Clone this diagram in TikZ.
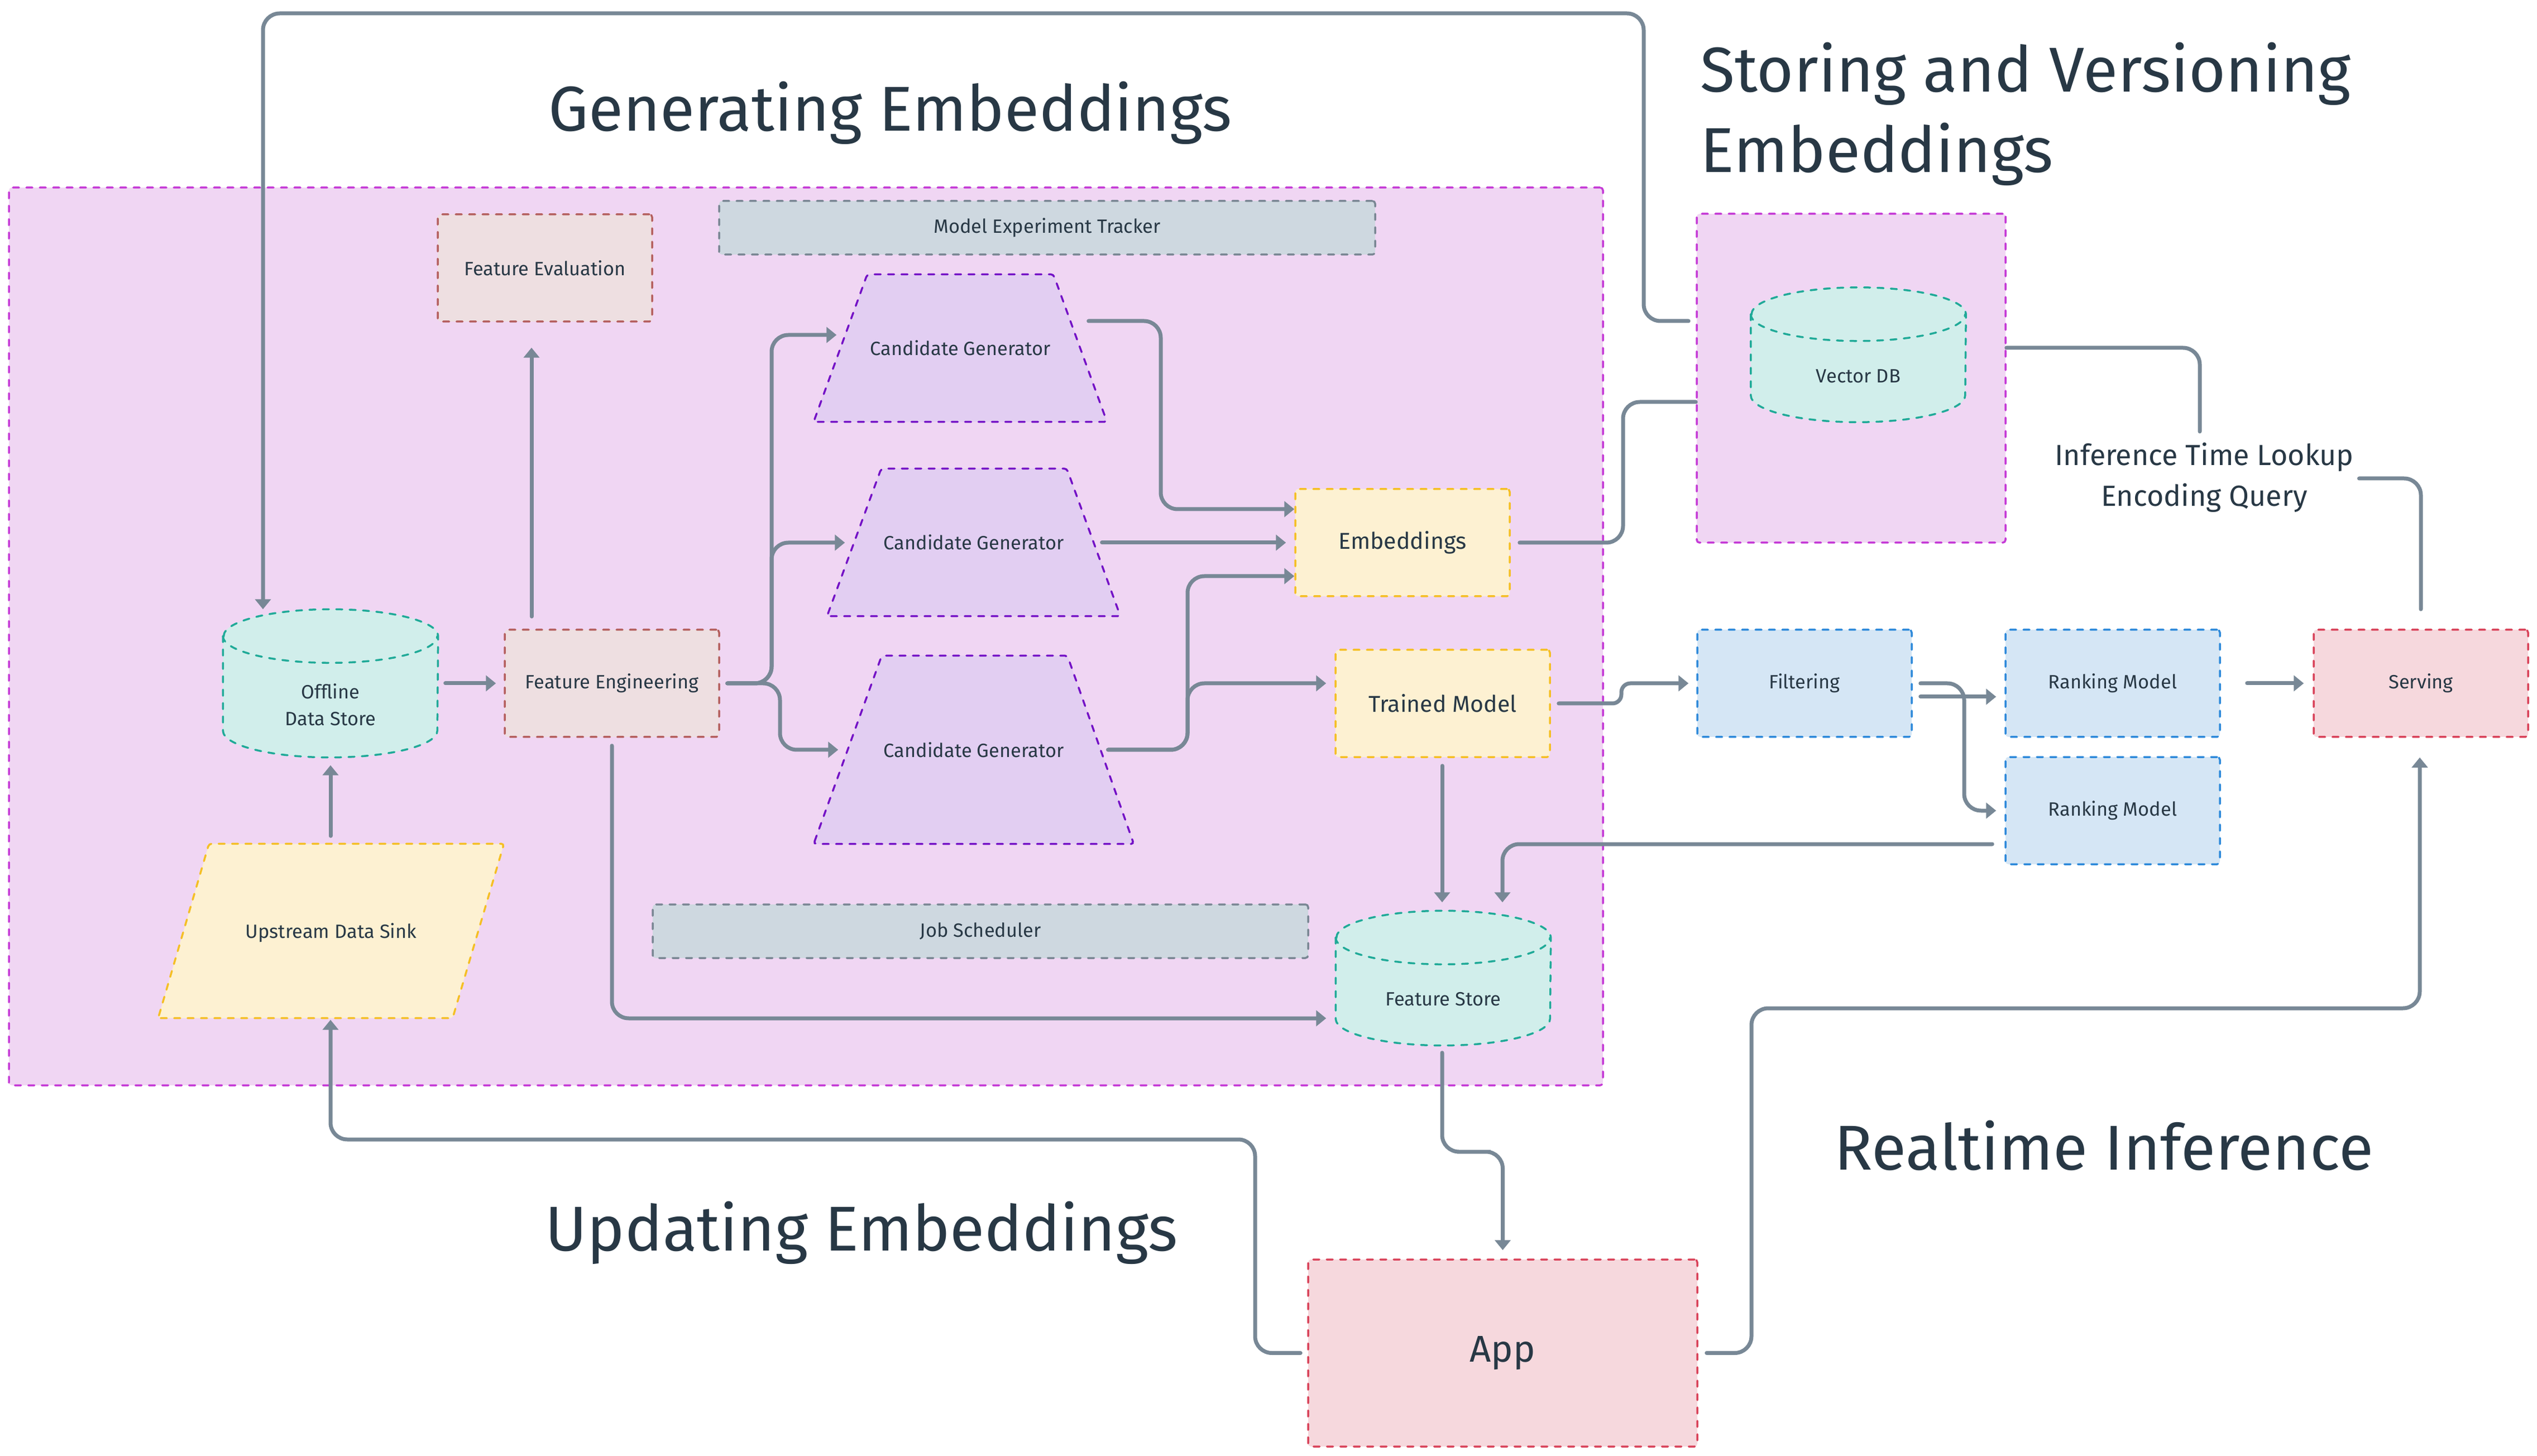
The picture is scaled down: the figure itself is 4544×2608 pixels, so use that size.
\documentclass[tikz,border=0pt]{standalone}
\usepackage{fontspec}
\setmainfont{Fira Sans}
\usetikzlibrary{arrows.meta,calc}
\pgfdeclarelayer{back}
\pgfdeclarelayer{mid}
\pgfsetlayers{back,mid,main}
\definecolor{genfill}{HTML}{F0D6F3}
\definecolor{genline}{HTML}{C53BD6}
\definecolor{brfill}{HTML}{EEDFE1}
\definecolor{brline}{HTML}{B5605F}
\definecolor{gyfill}{HTML}{CED8E0}
\definecolor{gyline}{HTML}{7A8794}
\definecolor{pufill}{HTML}{E2CEF2}
\definecolor{puline}{HTML}{7412C6}
\definecolor{yefill}{HTML}{FDF1D2}
\definecolor{yeline}{HTML}{F5BF25}
\definecolor{tefill}{HTML}{D1EEEB}
\definecolor{teline}{HTML}{20AA98}
\definecolor{blfill}{HTML}{D5E6F5}
\definecolor{blline}{HTML}{2F8ADA}
\definecolor{rdfill}{HTML}{F6D8DD}
\definecolor{rdline}{HTML}{D9435A}
\definecolor{conc}{HTML}{788896}
\definecolor{txt}{HTML}{283845}
\newcommand{\fsA}{\fontsize{9.8pt}{13.7pt}\selectfont}
\newcommand{\fsB}{\fontsize{11.7pt}{14pt}\selectfont}
\newcommand{\fsC}{\fontsize{14.8pt}{20.8pt}\selectfont}
\newcommand{\fsD}{\fontsize{19pt}{22pt}\selectfont}
\newcommand{\fsE}{\fontsize{32.3pt}{41pt}\selectfont}
\tikzset{
  bord/.style={line width=0.35mm, dash pattern=on 1.1mm off 1.3mm, line cap=round},
  bx/.style 2 args={rectangle, rounded corners=0.5mm, bord, inner sep=0pt, align=center,
    text=txt, font=\fsA, minimum width=#1*0.1mm, minimum height=#2*0.1mm},
  frm/.style 2 args={rectangle, inner sep=0pt, minimum width=#1*0.1mm, minimum height=#2*0.1mm},
  cont/.style 2 args={rectangle, rounded corners=0.5mm, bord, draw=genline, fill=genfill,
    minimum width=#1*0.1mm, minimum height=#2*0.1mm, inner sep=0pt},
  tx/.style={inner sep=0pt, align=center, text=txt, font=\fsA},
  ttl/.style={inner sep=0pt, text=txt, font=\fsE, anchor=base west},
  brownb/.style={draw=brline, fill=brfill},
  grayb/.style={draw=gyline, fill=gyfill},
  yellowb/.style={draw=yeline, fill=yefill},
  blueb/.style={draw=blline, fill=blfill},
  redb/.style={draw=rdline, fill=rdfill},
  conn/.style={draw=conc, line width=0.7mm, line cap=round, rounded corners=3mm},
  arr/.style={-{Triangle[length=1.8mm,width=2.8mm]}},
  cylshape/.style={bord, draw=teline, fill=tefill},
  trap/.style={bord, draw=puline, fill=pufill, rounded corners=0.5mm},
}
\newcommand{\drawcyl}[1]{%
  \filldraw[cylshape] ($(#1.north west)+(0,48)$) -- ($(#1.south west)+(0,-48)$)
    arc[start angle=180, end angle=360, x radius=19.2mm, y radius=4.8mm]
    -- ($(#1.north east)+(0,48)$)
    arc[start angle=0, end angle=180, x radius=19.2mm, y radius=4.8mm] -- cycle;
  \draw[bord, draw=teline] ($(#1.north west)+(0,48)$)
    arc[start angle=180, end angle=360, x radius=19.2mm, y radius=4.8mm];}
\begin{document}
\begin{tikzpicture}[x=0.1mm,y=-0.1mm]
\useasboundingbox (0,0) rectangle (4544,2608);
\begin{pgfonlayer}{back}
\fill[white] (0,0) rectangle (4544,2608);
\node[cont={2855}{1608}] (gen) at (1443.5,1140) {};
\node[cont={553}{589}] (vdbc) at (3315.5,677.5) {};
\end{pgfonlayer}

% titles
\node[ttl] (t1) at (982,235) {Generating Embeddings};
\node[ttl] (t2a) at (3045,165) {Storing and Versioning};
\node[ttl] (t2b) at (3045,309) {Embeddings};
\node[ttl] (t3) at (976,2240) {Updating Embeddings};
\node[ttl] (t4) at (3285,2095) {Realtime Inference};

% boxes
\node[bx={384}{192}, brownb] (feval) at (976,480) {Feature Evaluation};
\node[bx={384}{192}, brownb] (fe) at (1096,1224) {Feature Engineering};
\node[bx={1175}{96}, grayb] (met) at (1875.5,408) {Model Experiment Tracker};
\node[bx={1174}{96}, grayb] (js) at (1756,1668) {Job Scheduler};
\node[bx={384}{192}, yellowb, font=\fsB] (emb) at (2512,972) {Embeddings};
\node[bx={384}{192}, yellowb, font=\fsB] (tm) at (2584,1260) {Trained Model};
\node[bx={384}{192}, blueb] (filt) at (3232,1224) {Filtering};
\node[bx={384}{192}, blueb] (rm1) at (3784,1224) {Ranking Model};
\node[bx={384}{192}, blueb] (rm2) at (3784,1452) {Ranking Model};
\node[bx={384}{192}, redb] (serv) at (4336,1224) {Serving};
\node[bx={697}{335}, redb, font=\fsD] (app) at (2691.5,2423.5) {App};

% frames for drawn shapes
\node[frm={384}{264}] (offl) at (592,1224) {};
\node[frm={384}{240}] (fs) at (2585,1752) {};
\node[frm={384}{240}] (vdb) at (3328.5,635.5) {};
\node[frm={524}{263}] (cg1) at (1720,623.5) {};
\node[frm={524}{263}] (cg2) at (1744,971.5) {};
\node[frm={572}{336}] (cg3) at (1744,1343) {};
\node[frm={618}{311}] (uds) at (593,1667.5) {};

\begin{pgfonlayer}{mid}
\drawcyl{offl}
\drawcyl{fs}
\drawcyl{vdb}
\filldraw[trap] (cg1.south west) -- ($(cg1.north west)+(96,0)$) -- ($(cg1.north east)+(-96,0)$) -- (cg1.south east) -- cycle;
\filldraw[trap] (cg2.south west) -- ($(cg2.north west)+(97,0)$) -- ($(cg2.north east)+(-96,0)$) -- (cg2.south east) -- cycle;
\filldraw[trap] (cg3.south west) -- ($(cg3.north west)+(122,0)$) -- ($(cg3.north east)+(-119,0)$) -- (cg3.south east) -- cycle;
\filldraw[bord, draw=yeline, fill=yefill, rounded corners=0.5mm] (uds.south west) -- ($(uds.north west)+(91,0)$) -- (uds.north east) -- ($(uds.south east)+(-92,0)$) -- cycle;
\end{pgfonlayer}

% texts of drawn shapes
\node[tx] (offlt) at ($(offl)+(0,38)$) {Offline\\Data Store};
\node[tx] (fst) at ($(fs)+(0,38)$) {Feature Store};
\node[tx] (vdbt) at ($(vdb)+(0,38)$) {Vector DB};
\node[tx] (cg1t) at (cg1) {Candidate Generator};
\node[tx] (cg2t) at (cg2) {Candidate Generator};
\node[tx] (cg3t) at (cg3) {Candidate Generator};
\node[tx] (udst) at ($(uds)+(0,3)$) {Upstream Data Sink};
\node[tx, font=\fsC] (lab) at (3948,855) {Inference Time Lookup\\Encoding Query};

% connectors
\draw[conn,arr] ($(vdbc.west|-0,575)+(-13,0)$) -| (2944,24) -| (offl.north-|471,0);
\draw[conn,arr] ($(offl.east)+(13,0)$) -- ($(fe.west)+(-14,0)$);
\draw[conn,arr] ($(fe.north)+(-144,-22)$) -- ($(feval.south)+(-24,45)$);
\draw[conn,arr] ($(fe.east)+(13,0)$) -| (1382,600) -- ($(cg1.west|-0,600)+(41,0)$);
\draw[conn,arr] ($(fe.east)+(13,0)$) -| (1382,972) -- ($(cg2.west|-0,972)+(32,0)$);
\draw[conn,arr] ($(fe.east)+(13,0)$) -| (1397,1343) -- ($(cg3.west)+(44,0)$);
\draw[conn,arr] ($(cg1.east|-0,575)+(-33,0)$) -| (2079,912) -- (emb.west|-0,912);
\draw[conn,arr] ($(cg2.east|-emb.west)+(-33,0)$) -- ($(emb.west)+(-15,0)$);
\draw[conn,arr] ($(cg3.east)+(-46,0)$) -| (2127,1032) -- (emb.west|-0,1032);
\draw[conn,arr] ($(cg3.east)+(-46,0)$) -| (2127,1224) -- ($(tm.west|-0,1224)+(-15,0)$);
\draw[conn] ($(emb.east)+(16,0)$) -| (2907,720) -- (vdbc.west|-0,720);
\draw[conn,arr,rounded corners=1.6mm] ($(tm.east)+(14,0)$) -| (2904,1224) -- ($(filt.west)+(-14,0)$);
\draw[conn,arr] ($(tm.south)+(-1,14)$) -- ($(fs.north)+(-2,-15)$);
\draw[conn,arr] ($(rm2.west|-0,1512)+(-22,0)$) -| ($(fs.north)+(106,-15)$);
\draw[conn,arr] ($(fe.south)+(0,14)$) |- ($(fs.west|-0,1824)+(-17,0)$);
\draw[conn,arr] ($(fs.south)+(-2,13)$) |- (2640,2063) -| ($(app.north)+(0,-15)$);
\draw[conn,arr] ($(app.west)+(-12,0)$) -| (2248,2041) -| ($(uds.south)+(-1,3)$);
\draw[conn,arr] ($(uds.north)+(-1,-14)$) -- ($(offl.south)+(0,14)$);
\draw[conn,arr] ($(app.east)+(15,0)$) -| (3137,1806) -| ($(serv.south)+(-2,35)$);
\draw[conn] (vdbc.east|-0,623) -| ($(lab.north)+(-8,-19)$);
\draw[conn] ($(serv.north)+(0,-35)$) |- ($(lab.east)+(9,2)$);
\draw[conn,arr] ($(filt.east|-0,1248)+(14,0)$) -- ($(rm1.west|-0,1248)+(-15,0)$);
\draw[conn,arr] ($(filt.east)+(14,0)$) -| (3518,1452) -- ($(rm2.west)+(-15,0)$);
\draw[conn,arr] ($(rm1.east)+(47,0)$) -- ($(serv.west)+(-16,0)$);
\end{tikzpicture}
\end{document}
